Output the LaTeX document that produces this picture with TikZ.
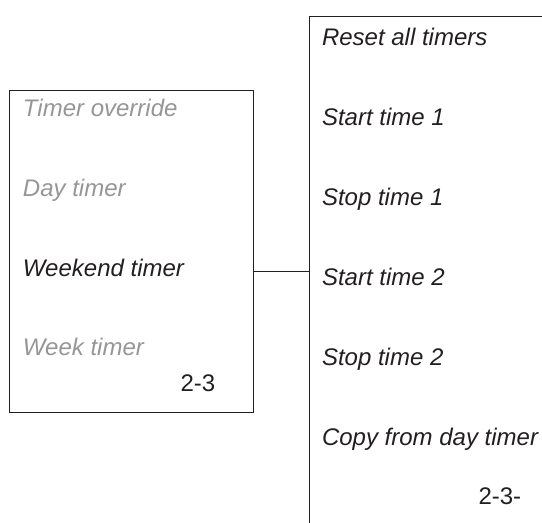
\documentclass[tikz,border=0pt]{standalone}
\usepackage{fontspec}
\setmainfont{Liberation Sans}
\usetikzlibrary{positioning}
\definecolor{ink}{RGB}{35,31,32}
\definecolor{faded}{RGB}{150,150,150}

\begin{document}
\begin{tikzpicture}[x=0.5pt, y=0.5pt, line width=0.5pt,
    panel/.style={rectangle, draw=ink, inner sep=0pt, anchor=north west},
    entry/.style={anchor=base west, inner sep=0pt, font=\itshape\fontsize{12}{14}\selectfont, text=ink},
    faded entry/.style={entry, text=faded},
    pagenum/.style={anchor=base west, inner sep=0pt, font=\fontsize{12}{14}\selectfont, text=ink}]
    \useasboundingbox (0,0) rectangle (542,523);
    \clip (0,0) rectangle (542,523);

    % Menus
    \node[panel, minimum width=122pt, minimum height=161pt] (timers) at (9,433) {};
    \node[panel, minimum width=150pt, minimum height=270pt] (settings) at (309,507) {};

    % Timer menu
    \node[faded entry] (override) at (22.5,406) {Timer override};
    \node[faded entry] (day) at (22.5,326) {Day timer};
    \node[entry] (weekend) at (22.5,246) {Weekend timer};
    \node[faded entry] (week) at (22.5,167) {Week timer};
    \node[pagenum] (page) at (180,131) {2-3};

    % Weekend timer menu
    \node[entry] (reset) at (321.5,477) {Reset all timers};
    \node[entry] (start1) at (321.5,397) {Start time 1};
    \node[entry] (stop1) at (321.5,317) {Stop time 1};
    \node[entry] (start2) at (321.5,237) {Start time 2};
    \node[entry] (stop2) at (321.5,157) {Stop time 2};
    \node[entry] (copy) at (321.5,77) {Copy from day timer};
    \node[pagenum] (subpage) at (478,18) {2-3-};

    % Verbindung
    \draw[ink] (timers.east |- weekend.mid) -- (settings.west |- weekend.mid);
\end{tikzpicture}
\end{document}
